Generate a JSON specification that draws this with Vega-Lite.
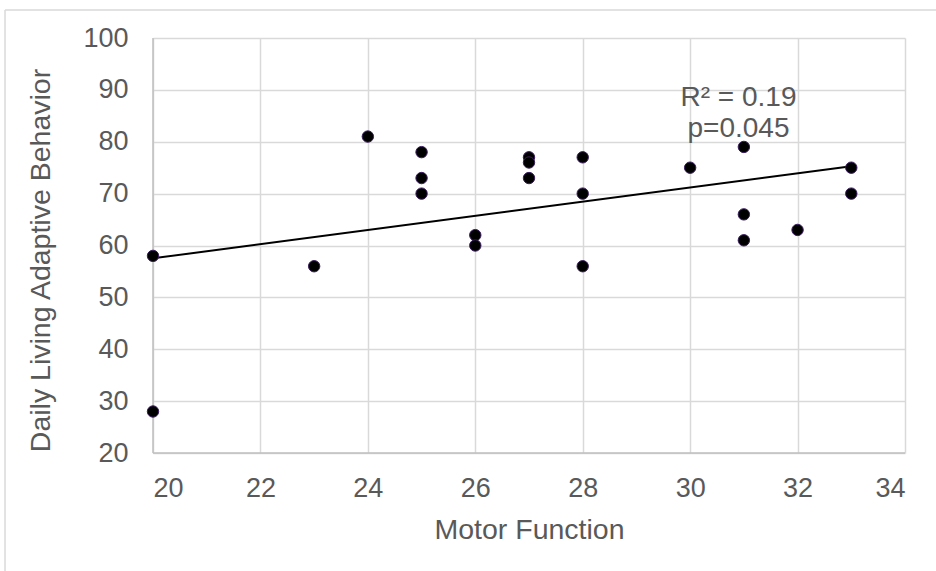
{
  "$schema": "https://vega.github.io/schema/vega-lite/v6.json",
  "width": 752,
  "height": 415,
  "autosize": {"type": "none"},
  "padding": {"left": 153, "top": 38, "right": 31, "bottom": 118},
  "background": "white",
  "config": {
    "view": {"stroke": null},
    "font": "Liberation Sans",
    "axis": {
      "grid": true,
      "gridColor": "#d9d9d9",
      "gridWidth": 1.5,
      "ticks": false,
      "labelFont": "Liberation Sans",
      "labelFontSize": 27,
      "labelColor": "#595959",
      "titleFont": "Liberation Sans",
      "titleFontSize": 28.5,
      "titleFontWeight": "normal",
      "titleColor": "#595959",
      "domain": false
    }
  },
  "data": {
    "values": [
      {"motor": 20, "daily": 58},
      {"motor": 20, "daily": 28},
      {"motor": 23, "daily": 56},
      {"motor": 24, "daily": 81},
      {"motor": 25, "daily": 78},
      {"motor": 25, "daily": 73},
      {"motor": 25, "daily": 70},
      {"motor": 26, "daily": 62},
      {"motor": 26, "daily": 60},
      {"motor": 27, "daily": 77},
      {"motor": 27, "daily": 76},
      {"motor": 27, "daily": 73},
      {"motor": 28, "daily": 77},
      {"motor": 28, "daily": 70},
      {"motor": 28, "daily": 56},
      {"motor": 30, "daily": 75},
      {"motor": 31, "daily": 79},
      {"motor": 31, "daily": 66},
      {"motor": 31, "daily": 61},
      {"motor": 32, "daily": 63},
      {"motor": 33, "daily": 75},
      {"motor": 33, "daily": 70}
    ]
  },
  "layer": [
    {
      "mark": {"type": "point", "filled": true, "size": 0, "opacity": 0},
      "encoding": {
        "x": {
          "field": "motor",
          "type": "quantitative",
          "scale": {"domain": [20, 34], "nice": false, "zero": false},
          "axis": {"grid": true, "values": [20, 22, 24, 26, 28, 30, 32, 34], "labelPadding": 22, "title": "Motor Function", "titlePadding": 14}
        },
        "y": {
          "field": "daily",
          "type": "quantitative",
          "scale": {"domain": [20, 100], "nice": false, "zero": false},
          "axis": {"grid": true, "values": [20, 30, 40, 50, 60, 70, 80, 90, 100], "labelPadding": 25, "title": "Daily Living Adaptive Behavior", "titlePadding": 27, "titleY": 222}
        }
      }
    },
    {
      "data": {"values": [{}]},
      "mark": {"type": "rule", "color": "#bfbfbf", "strokeWidth": 1.5},
      "encoding": {"y": {"datum": 20, "type": "quantitative"}}
    },
    {
      "data": {"values": [{}]},
      "mark": {"type": "rule", "color": "#bfbfbf", "strokeWidth": 1.5},
      "encoding": {"x": {"datum": 20, "type": "quantitative"}}
    },
    {
      "data": {"values": [{}]},
      "mark": {"type": "rule", "color": "#d9d9d9", "strokeWidth": 1.5, "clip": false},
      "encoding": {
        "x": {"datum": 17.245, "type": "quantitative"},
        "y": {"datum": 105.4, "type": "quantitative"},
        "y2": {"datum": -5}
      }
    },
    {
      "data": {"values": [{}]},
      "mark": {"type": "rule", "color": "#d9d9d9", "strokeWidth": 1.5, "clip": false},
      "encoding": {
        "y": {"datum": 105.4, "type": "quantitative"},
        "x": {"datum": 17.245, "type": "quantitative"},
        "x2": {"datum": 34.7}
      }
    },
    {
      "transform": [{"regression": "daily", "on": "motor", "extent": [20, 33]}],
      "mark": {"type": "line", "color": "#000000", "strokeWidth": 2},
      "encoding": {
        "x": {"field": "motor", "type": "quantitative"},
        "y": {"field": "daily", "type": "quantitative"}
      }
    },
    {
      "mark": {"type": "point", "filled": true, "size": 130, "fill": "#000000", "stroke": "#3a1d5c", "strokeWidth": 1, "opacity": 1},
      "encoding": {
        "x": {"field": "motor", "type": "quantitative"},
        "y": {"field": "daily", "type": "quantitative"}
      }
    },
    {
      "data": {"values": [{}]},
      "mark": {"type": "text", "fontSize": 28, "color": "#595959", "align": "center", "baseline": "middle", "lineHeight": 31, "font": "Liberation Sans"},
      "encoding": {
        "x": {"datum": 30.9, "type": "quantitative"},
        "y": {"datum": 88.4, "type": "quantitative"},
        "text": {"value": ["R² = 0.19", "p=0.045"]}
      }
    }
  ]
}
